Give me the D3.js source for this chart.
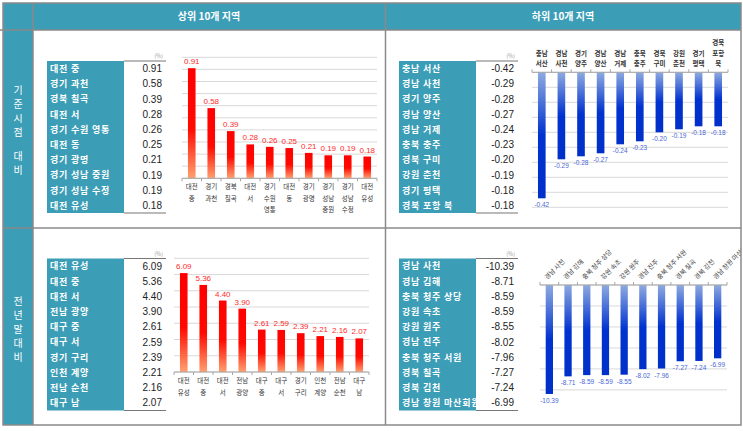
<!DOCTYPE html>
<html>
<head>
<meta charset="utf-8">
<script src="https://cdn.jsdelivr.net/npm/d3@7"></script>
<style>
  body { margin: 0; background: #fff; }
  svg { display: block; font-family: 'Noto Sans CJK KR', sans-serif; }
</style>
</head>
<body>
<svg width="743" height="431"></svg>
<script>
const svg = d3.select('svg')

const TEAL = '#3b9db6'
const BORDER = '#8a8a8a'
const GRID = '#d9d9d9'

// data
const headers = ['상위 10개 지역', '하위 10개 지역']

const baseUpCats = ['대전 중', '경기 과천', '경북 칠곡', '대전 서', '경기 수원 영통', '대전 동', '경기 광명', '경기 성남 중원', '경기 성남 수정', '대전 유성']
const baseUpVals = [0.91, 0.58, 0.39, 0.28, 0.26, 0.25, 0.21, 0.19, 0.19, 0.18]

const baseDownCats = ['충남 서산', '경남 사천', '경기 양주', '경남 양산', '경남 거제', '충북 충주', '경북 구미', '강원 춘천', '경기 평택', '경북 포항 북']
const baseDownVals = [-0.42, -0.29, -0.28, -0.27, -0.24, -0.23, -0.20, -0.19, -0.18, -0.18]

const yearUpCats = ['대전 유성', '대전 중', '대전 서', '전남 광양', '대구 중', '대구 서', '경기 구리', '인천 계양', '전남 순천', '대구 남']
const yearUpVals = [6.09, 5.36, 4.40, 3.90, 2.61, 2.59, 2.39, 2.21, 2.16, 2.07]

const yearDownCats = ['경남 사천', '경남 김해', '충북 청주 상당', '강원 속초', '강원 원주', '경남 진주', '충북 청주 서원', '경북 칠곡', '경북 김천', '경남 창원 마산회원']
const yearDownVals = [-10.39, -8.71, -8.59, -8.59, -8.55, -8.02, -7.96, -7.27, -7.24, -6.99]

// gradients
const defs = svg.append('defs')
const red = defs.append('linearGradient').attr('id', 'redGrad').attr('x1', 0).attr('y1', 0).attr('x2', 0).attr('y2', 1)
red.append('stop').attr('offset', '0%').attr('stop-color', '#ff0000')
red.append('stop').attr('offset', '55%').attr('stop-color', '#ff0a00')
red.append('stop').attr('offset', '100%').attr('stop-color', '#ffa070')
const blue = defs.append('linearGradient').attr('id', 'blueGrad').attr('x1', 0).attr('y1', 0).attr('x2', 0).attr('y2', 1)
blue.append('stop').attr('offset', '0%').attr('stop-color', '#8eaae0')
blue.append('stop').attr('offset', '50%').attr('stop-color', '#0032d0')
blue.append('stop').attr('offset', '100%').attr('stop-color', '#0030c8')
defs.append('clipPath').attr('id', 'panelClip')
  .append('rect').attr('x', 0).attr('y', 0).attr('width', 740.5).attr('height', 431)

// frame
svg.append('rect').attr('x', 3).attr('y', 3).attr('width', 738).attr('height', 27).attr('fill', TEAL)
svg.append('rect').attr('x', 3).attr('y', 3).attr('width', 30).attr('height', 422).attr('fill', TEAL)

const frame = svg.append('g').attr('stroke', BORDER).attr('stroke-width', 1.5).attr('fill', 'none')
frame.append('rect').attr('x', 3).attr('y', 3).attr('width', 738).attr('height', 422)
frame.append('line').attr('x1', 33).attr('x2', 33).attr('y1', 3).attr('y2', 425)
frame.append('line').attr('x1', 385.5).attr('x2', 385.5).attr('y1', 3).attr('y2', 425)
frame.append('line').attr('x1', 0).attr('x2', 741).attr('y1', 30).attr('y2', 30)
frame.append('line').attr('x1', 3).attr('x2', 741).attr('y1', 228).attr('y2', 228)

svg.selectAll('.hdr')
  .data(headers)
  .enter()
  .append('text')
  .attr('x', (d, i) => i === 0 ? 209 : 563)
  .attr('y', 20)
  .attr('text-anchor', 'middle')
  .attr('fill', '#fff')
  .attr('font-size', 10)
  .attr('font-weight', 'bold')
  .text(d => d)

// vertical row titles
function rowTitle(chars, x, ys) {
  svg.append('g').selectAll('text')
    .data(chars)
    .enter()
    .append('text')
    .attr('x', x)
    .attr('y', (d, i) => ys[i])
    .attr('text-anchor', 'middle')
    .attr('fill', '#fff')
    .attr('font-size', 10)
    .text(d => d)
}
rowTitle(['기', '준', '시', '점', '대', '비'], 18, [94, 108, 122, 136, 160, 174])
rowTitle(['전', '년', '말', '대', '비'], 18, [305, 319, 333, 347, 361])

function drawTable(x, y, cats, vals) {
  const labelW = 77, valW = 42, rowH = 15.2
  const g = svg.append('g').attr('transform', `translate(${x}, ${y})`)
  g.append('rect').attr('width', labelW).attr('height', rowH * cats.length).attr('fill', TEAL)
  g.append('line').attr('x1', labelW).attr('x2', labelW + valW).attr('y1', 0).attr('y2', 0)
    .attr('stroke', '#777').attr('stroke-width', 1.2)
  g.append('line').attr('x1', labelW).attr('x2', labelW + valW)
    .attr('y1', rowH * cats.length).attr('y2', rowH * cats.length)
    .attr('stroke', '#777').attr('stroke-width', 1.2)
  g.append('text').attr('x', labelW + valW - 3).attr('y', -3).attr('text-anchor', 'end')
    .attr('font-size', 5.5).attr('fill', '#999').text('(%)')

  g.selectAll('.lbl')
    .data(cats)
    .enter()
    .append('text')
    .attr('x', 3)
    .attr('y', (d, i) => i * rowH + rowH / 2 + 3.3)
    .attr('fill', '#fff')
    .attr('font-size', 9)
    .attr('font-weight', 'bold')
    .attr('letter-spacing', 0.8)
    .text(d => d)

  g.selectAll('.val')
    .data(vals)
    .enter()
    .append('text')
    .attr('x', labelW + valW - 4)
    .attr('y', (d, i) => i * rowH + rowH / 2 + 3.5)
    .attr('text-anchor', 'end')
    .attr('fill', '#222')
    .attr('font-family', 'Liberation Sans, Arial, sans-serif')
    .attr('font-size', 10)
    .text(d => d.toFixed(2))
}

drawTable(47, 61, baseUpCats, baseUpVals)
drawTable(399, 61, baseDownCats, baseDownVals)
drawTable(47, 258.5, yearUpCats, yearUpVals)
drawTable(399, 258.5, yearDownCats, yearDownVals)

// bar charts
function drawBars(o) {
  const g = svg.append('g').attr('clip-path', 'url(#panelClip)')
  const x = d3.scaleBand().domain(o.cats).range([o.x0, o.x1]).paddingInner(0).paddingOuter(0)
  const y = d3.scaleLinear().domain(o.domain).range([o.yBase, o.yEnd])
  const barW = x.bandwidth() * 0.39

  g.selectAll('.grid')
    .data(o.grid)
    .enter()
    .append('line')
    .attr('x1', o.x0).attr('x2', o.x1)
    .attr('y1', d => y(d)).attr('y2', d => y(d))
    .attr('stroke', GRID).attr('stroke-width', 1)

  g.selectAll('.bar')
    .data(o.vals)
    .enter()
    .append('rect')
    .attr('x', (d, i) => x(o.cats[i]) + (x.bandwidth() - barW) / 2)
    .attr('y', d => Math.min(y(d), y(0)))
    .attr('width', barW)
    .attr('height', d => Math.abs(y(d) - y(0)))
    .attr('fill', o.neg ? 'url(#blueGrad)' : 'url(#redGrad)')

  // axis line with ticks at category boundaries
  g.append('line').attr('x1', o.x0).attr('x2', o.x1).attr('y1', y(0)).attr('y2', y(0))
    .attr('stroke', '#a6a6a6').attr('stroke-width', 1)
  g.selectAll('.tick')
    .data(o.cats.concat(['__end']))
    .enter()
    .append('line')
    .attr('x1', (d, i) => o.x0 + i * x.step())
    .attr('x2', (d, i) => o.x0 + i * x.step())
    .attr('y1', y(0))
    .attr('y2', y(0) + (o.neg ? -3 : 3))
    .attr('stroke', '#a6a6a6')

  g.selectAll('.vlbl')
    .data(o.vals)
    .enter()
    .append('text')
    .attr('x', (d, i) => x(o.cats[i]) + x.bandwidth() / 2)
    .attr('y', d => o.neg ? y(d) + 9 : y(d) - 4)
    .attr('text-anchor', 'middle')
    .attr('font-family', 'Liberation Sans, Arial, sans-serif')
    .attr('font-size', o.neg ? 6.5 : 8)
    .attr('fill', o.neg ? '#4a66d8' : '#ff2a2a')
    .text(d => d.toFixed(2))

  if (o.rotate) {
    g.selectAll('.clbl')
      .data(o.cats)
      .enter()
      .append('text')
      .attr('transform', d => `translate(${x(d) + x.bandwidth() / 2 - 2}, ${y(0) - 5}) rotate(-45)`)
      .attr('font-size', 6.5)
      .attr('fill', '#444')
      .text(d => d)
  } else {
    o.cats.forEach(c => {
      const parts = c.split(' ')
      const cx = x(c) + x.bandwidth() / 2
      parts.forEach((p, j) => {
        const yy = o.neg
          ? y(0) - 6.5 - (parts.length - 1 - j) * o.lineH
          : y(0) + 11 + j * o.lineH
        g.append('text')
          .attr('x', cx)
          .attr('y', yy)
          .attr('text-anchor', 'middle')
          .attr('font-size', 6.5)
          .attr('fill', '#333')
          .attr('font-weight', o.neg ? 'bold' : 'normal')
          .text(p)
      })
    })
  }
}

drawBars({ cats: baseUpCats, vals: baseUpVals, x0: 182, x1: 377, yBase: 178.3, yEnd: 57.3,
  domain: [0, 1], grid: d3.range(0, 1.01, 0.1), lineH: 11.5 })
drawBars({ cats: baseDownCats, vals: baseDownVals, x0: 532, x1: 728, yBase: 72.3, yEnd: 207.3,
  domain: [0, -0.45], grid: d3.range(0, -0.451, -0.05), neg: true, lineH: 10.3 })
drawBars({ cats: yearUpCats, vals: yearUpVals, x0: 174, x1: 369, yBase: 372, yEnd: 258.3,
  domain: [0, 7], grid: d3.range(0, 7.1, 1), lineH: 11.5 })
drawBars({ cats: yearDownCats, vals: yearDownVals, x0: 540, x1: 727, yBase: 285, yEnd: 389.9,
  domain: [0, -10], grid: d3.range(0, -10.1, -2), neg: true, rotate: true })
</script>
</body>
</html>
